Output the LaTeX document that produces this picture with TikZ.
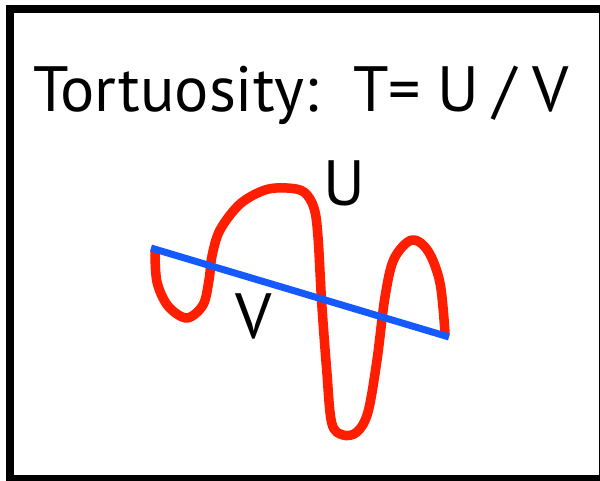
\documentclass[tikz,border=0pt]{standalone}
\usepackage{fontspec}
\setmainfont{PT Sans}
\definecolor{curvered}{RGB}{255,30,0}
\definecolor{lineblue}{RGB}{20,90,255}
\begin{document}
\begin{tikzpicture}[x=1pt,y=-1pt,
  lbl/.style={inner sep=0pt,anchor=base west,font=\fontsize{64}{70}\selectfont}]
\useasboundingbox (0,0) rectangle (600,481);
\begin{scope}
\clip (0,0) rectangle (600,481);
\draw[line width=8pt] (10,9) rectangle (603,479);
\end{scope}
\node[lbl] (title) at (33,112) {Tortuosity:};
\node[lbl] (formula) at (353,112) {T=\hspace{16pt}U\hspace{15pt}/\hspace{16pt}V};
\draw[curvered,line width=9.5pt,line cap=round,line join=round]
  plot[smooth,tension=0.55] coordinates {
  (155,252) (157,282) (168,306) (186.7,318) (203,305) (209,280) (212,256)
  (220,230) (240,204) (265,190) (287,188) (304,192) (314,208)
  (318,237) (321.7,303) (326.7,370) (331.7,423) (343,435) (357,432)
  (368,412) (377,360) (385,297) (394,259) (411.7,240) (428,251)
  (440,283) (445,333)};
\draw[lineblue,line width=7pt] (151,248) coordinate (vs) -- (449,337) coordinate (ve);
\node[lbl] (U) at (323,206) {U};
\node[lbl] (V) at (235,338) {V};
\end{tikzpicture}
\end{document}
